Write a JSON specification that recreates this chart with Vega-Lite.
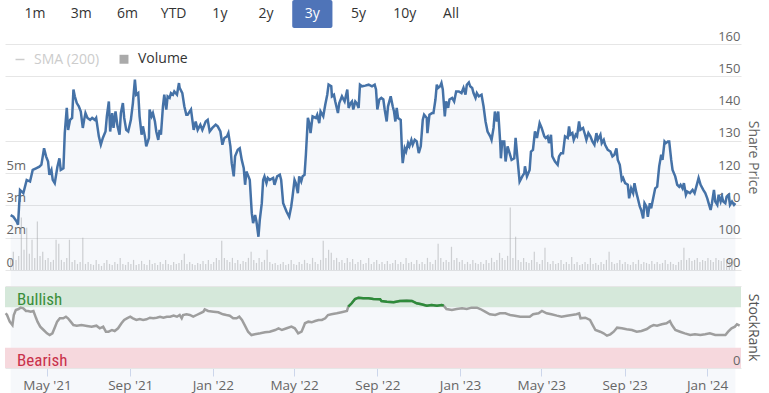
{
  "$schema": "https://vega.github.io/schema/vega-lite/v6.json",
  "padding": {"left": 0, "top": 0, "right": 14, "bottom": 0},
  "background": "white",
  "spacing": 16,
  "bounds": "flush",
  "config": {"view": {"stroke": null}, "axis": {"labelFont": "Open Sans", "titleFont": "Open Sans"}, "legend": {"labelFont": "Open Sans"}},
  "resolve": {"scale": {"x": "independent", "y": "independent", "color": "independent"}},
  "datasets": {
    "price": [
      {"d":"2021-060","p":107},{"d":"2021-064","p":106.5},{"d":"2021-069","p":105},{"d":"2021-071","p":104},{"d":"2021-074","p":114.8},{"d":"2021-079","p":113.8},{"d":"2021-084","p":117.9},{"d":"2021-089","p":117.4},{"d":"2021-093","p":121},{"d":"2021-098","p":121.5},
      {"d":"2021-103","p":122},{"d":"2021-106","p":122.6},{"d":"2021-110","p":127.7},{"d":"2021-113","p":125.2},{"d":"2021-116","p":123.6},{"d":"2021-118","p":119.5},{"d":"2021-121","p":121},{"d":"2021-123","p":117.9},{"d":"2021-126","p":116.9},{"d":"2021-130","p":122},
      {"d":"2021-133","p":124.6},{"d":"2021-135","p":121},{"d":"2021-139","p":121.5},{"d":"2021-141","p":132.4},{"d":"2021-144","p":140.2},{"d":"2021-146","p":133.4},{"d":"2021-149","p":136.5},{"d":"2021-152","p":137.1},{"d":"2021-154","p":145.9},{"d":"2021-156","p":143.8},
      {"d":"2021-159","p":141.7},{"d":"2021-162","p":140.7},{"d":"2021-165","p":139.1},{"d":"2021-168","p":134},{"d":"2021-170","p":136.5},{"d":"2021-172","p":138.6},{"d":"2021-175","p":137.1},{"d":"2021-179","p":136.5},{"d":"2021-182","p":137.1},{"d":"2021-186","p":136.5},
      {"d":"2021-188","p":137.1},{"d":"2021-192","p":131.4},{"d":"2021-195","p":128.8},{"d":"2021-198","p":130.9},{"d":"2021-202","p":132.9},{"d":"2021-204","p":137.6},{"d":"2021-207","p":142.2},{"d":"2021-209","p":132.9},{"d":"2021-212","p":138.6},{"d":"2021-214","p":134},
      {"d":"2021-217","p":139.1},{"d":"2021-220","p":134.5},{"d":"2021-223","p":131.9},{"d":"2021-225","p":138.6},{"d":"2021-228","p":141.7},{"d":"2021-230","p":137.1},{"d":"2021-233","p":133.4},{"d":"2021-236","p":132.9},{"d":"2021-240","p":136.5},{"d":"2021-243","p":141.7},
      {"d":"2021-246","p":149},{"d":"2021-248","p":144.3},{"d":"2021-251","p":144.8},{"d":"2021-253","p":137.6},{"d":"2021-256","p":131.9},{"d":"2021-258","p":134.5},{"d":"2021-261","p":131.4},{"d":"2021-263","p":128.3},{"d":"2021-267","p":130.9},{"d":"2021-268","p":139.7},
      {"d":"2021-271","p":137.6},{"d":"2021-273","p":138.6},{"d":"2021-276","p":136},{"d":"2021-278","p":132.9},{"d":"2021-281","p":130.3},{"d":"2021-283","p":133.4},{"d":"2021-285","p":131.9},{"d":"2021-288","p":140.7},{"d":"2021-290","p":144.3},{"d":"2021-293","p":139.7},
      {"d":"2021-295","p":143.8},{"d":"2021-298","p":143.3},{"d":"2021-300","p":144.8},{"d":"2021-303","p":144.3},{"d":"2021-305","p":145.3},{"d":"2021-309","p":144.3},{"d":"2021-312","p":147.9},{"d":"2021-313","p":146.4},{"d":"2021-317","p":144.8},{"d":"2021-320","p":140.7},
      {"d":"2021-323","p":138.1},{"d":"2021-325","p":138.1},{"d":"2021-330","p":139.7},{"d":"2021-334","p":133.4},{"d":"2021-337","p":136},{"d":"2021-340","p":133.4},{"d":"2021-344","p":135},{"d":"2021-347","p":133.4},{"d":"2021-352","p":136},{"d":"2021-355","p":136.5},
      {"d":"2021-358","p":132.9},{"d":"2021-362","p":134},{"d":"2022-002","p":135},{"d":"2022-005","p":134.5},{"d":"2022-009","p":132.9},{"d":"2022-012","p":128.8},{"d":"2022-015","p":130.9},{"d":"2022-019","p":131.4},{"d":"2022-021","p":132.4},{"d":"2022-024","p":128.3},
      {"d":"2022-026","p":123.1},{"d":"2022-029","p":119},{"d":"2022-031","p":125.2},{"d":"2022-035","p":127.2},{"d":"2022-038","p":127.7},{"d":"2022-041","p":124.1},{"d":"2022-044","p":121.5},{"d":"2022-046","p":116.4},{"d":"2022-048","p":120.5},{"d":"2022-051","p":119},
      {"d":"2022-053","p":117.9},{"d":"2022-056","p":107.6},{"d":"2022-058","p":104.5},{"d":"2022-061","p":107},{"d":"2022-063","p":105},{"d":"2022-066","p":100.3},{"d":"2022-068","p":105.5},{"d":"2022-071","p":110.7},{"d":"2022-073","p":117.9},{"d":"2022-075","p":119},
      {"d":"2022-078","p":116.9},{"d":"2022-080","p":118.5},{"d":"2022-083","p":117.9},{"d":"2022-088","p":118.5},{"d":"2022-090","p":116.4},{"d":"2022-094","p":119},{"d":"2022-098","p":119.5},{"d":"2022-100","p":117.9},{"d":"2022-103","p":110.7},{"d":"2022-108","p":108.1},
      {"d":"2022-112","p":106.5},{"d":"2022-115","p":109.6},{"d":"2022-117","p":112.7},{"d":"2022-120","p":117.9},{"d":"2022-122","p":116.9},{"d":"2022-125","p":113.8},{"d":"2022-127","p":119},{"d":"2022-130","p":117.4},{"d":"2022-132","p":119},{"d":"2022-135","p":119.5},
      {"d":"2022-137","p":125.7},{"d":"2022-140","p":137.1},{"d":"2022-142","p":135.5},{"d":"2022-144","p":132.4},{"d":"2022-147","p":137.6},{"d":"2022-152","p":137.1},{"d":"2022-154","p":138.1},{"d":"2022-157","p":135.5},{"d":"2022-159","p":139.1},{"d":"2022-163","p":137.6},
      {"d":"2022-166","p":141.2},{"d":"2022-169","p":144.3},{"d":"2022-171","p":147.4},{"d":"2022-175","p":146.9},{"d":"2022-176","p":143.8},{"d":"2022-179","p":144.3},{"d":"2022-181","p":142.2},{"d":"2022-185","p":138.6},{"d":"2022-187","p":141.7},{"d":"2022-191","p":143.8},
      {"d":"2022-195","p":142.2},{"d":"2022-199","p":145.9},{"d":"2022-201","p":140.2},{"d":"2022-204","p":141.7},{"d":"2022-206","p":142.2},{"d":"2022-208","p":139.7},{"d":"2022-211","p":142.2},{"d":"2022-213","p":141.7},{"d":"2022-216","p":140.2},{"d":"2022-218","p":147.4},
      {"d":"2022-221","p":146.9},{"d":"2022-226","p":147.1},{"d":"2022-231","p":147.4},{"d":"2022-236","p":146.9},{"d":"2022-240","p":147.4},{"d":"2022-242","p":145.9},{"d":"2022-244","p":139.7},{"d":"2022-247","p":142.8},{"d":"2022-250","p":143.3},{"d":"2022-253","p":142.8},
      {"d":"2022-255","p":139.7},{"d":"2022-258","p":136},{"d":"2022-260","p":140.7},{"d":"2022-264","p":143.8},{"d":"2022-267","p":140.7},{"d":"2022-269","p":139.1},{"d":"2022-271","p":136},{"d":"2022-273","p":140.2},{"d":"2022-275","p":137.1},{"d":"2022-279","p":136.5},
      {"d":"2022-281","p":126.2},{"d":"2022-282","p":123.1},{"d":"2022-285","p":127.7},{"d":"2022-287","p":126.7},{"d":"2022-290","p":129.3},{"d":"2022-292","p":128.3},{"d":"2022-295","p":130.3},{"d":"2022-297","p":128.8},{"d":"2022-300","p":130.3},{"d":"2022-303","p":129.8},
      {"d":"2022-306","p":126.2},{"d":"2022-309","p":128.3},{"d":"2022-312","p":136.5},{"d":"2022-314","p":138.1},{"d":"2022-318","p":137.1},{"d":"2022-319","p":132.4},{"d":"2022-322","p":138.1},{"d":"2022-326","p":138.6},{"d":"2022-328","p":138.6},{"d":"2022-331","p":142.8},
      {"d":"2022-333","p":147.4},{"d":"2022-335","p":146.4},{"d":"2022-338","p":146.9},{"d":"2022-340","p":147.9},{"d":"2022-342","p":145.9},{"d":"2022-345","p":137.6},{"d":"2022-347","p":142.2},{"d":"2022-350","p":140.2},{"d":"2022-352","p":142.8},{"d":"2022-356","p":143.3},
      {"d":"2022-359","p":142.2},{"d":"2022-362","p":145.3},{"d":"2023-001","p":145.3},{"d":"2023-005","p":144.8},{"d":"2023-008","p":146.4},{"d":"2023-011","p":144.3},{"d":"2023-013","p":147.4},{"d":"2023-016","p":148.1},{"d":"2023-018","p":146.9},{"d":"2023-021","p":146.4},
      {"d":"2023-023","p":144.8},{"d":"2023-026","p":143.3},{"d":"2023-028","p":144.8},{"d":"2023-031","p":143.8},{"d":"2023-035","p":144.3},{"d":"2023-038","p":140.7},{"d":"2023-041","p":136},{"d":"2023-044","p":132.9},{"d":"2023-048","p":131.4},{"d":"2023-050","p":130.3},
      {"d":"2023-053","p":134},{"d":"2023-055","p":139.1},{"d":"2023-058","p":136},{"d":"2023-060","p":139.1},{"d":"2023-063","p":129.3},{"d":"2023-064","p":124.6},{"d":"2023-066","p":129.8},{"d":"2023-069","p":129.8},{"d":"2023-071","p":123.6},{"d":"2023-074","p":128.3},
      {"d":"2023-077","p":126.2},{"d":"2023-080","p":124.1},{"d":"2023-084","p":124.6},{"d":"2023-086","p":130.9},{"d":"2023-089","p":124.1},{"d":"2023-092","p":117.4},{"d":"2023-096","p":119},{"d":"2023-099","p":120},{"d":"2023-100","p":122.1},{"d":"2023-103","p":119},
      {"d":"2023-107","p":121},{"d":"2023-109","p":126.7},{"d":"2023-112","p":127.2},{"d":"2023-115","p":132.9},{"d":"2023-118","p":130.9},{"d":"2023-122","p":135.5},{"d":"2023-125","p":134},{"d":"2023-129","p":131.4},{"d":"2023-131","p":130.9},{"d":"2023-134","p":131.4},
      {"d":"2023-136","p":129.3},{"d":"2023-139","p":131.9},{"d":"2023-141","p":125.2},{"d":"2023-145","p":123.6},{"d":"2023-149","p":122.6},{"d":"2023-151","p":125.2},{"d":"2023-154","p":126.2},{"d":"2023-157","p":126.2},{"d":"2023-160","p":131.4},{"d":"2023-164","p":130.9},
      {"d":"2023-166","p":134.5},{"d":"2023-168","p":131.9},{"d":"2023-171","p":132.4},{"d":"2023-173","p":130.3},{"d":"2023-176","p":131.9},{"d":"2023-178","p":131.4},{"d":"2023-181","p":136},{"d":"2023-183","p":133.4},{"d":"2023-187","p":134},{"d":"2023-190","p":131.9},
      {"d":"2023-192","p":130.3},{"d":"2023-195","p":132.4},{"d":"2023-198","p":131.4},{"d":"2023-201","p":129.8},{"d":"2023-204","p":128.8},{"d":"2023-207","p":132.4},{"d":"2023-209","p":130.3},{"d":"2023-213","p":131.9},{"d":"2023-215","p":129.3},{"d":"2023-218","p":130.3},
      {"d":"2023-220","p":128.8},{"d":"2023-224","p":127.2},{"d":"2023-228","p":126.7},{"d":"2023-231","p":125.2},{"d":"2023-234","p":125.7},{"d":"2023-237","p":127.7},{"d":"2023-239","p":124.1},{"d":"2023-242","p":122.6},{"d":"2023-245","p":117.9},{"d":"2023-247","p":118.5},
      {"d":"2023-250","p":116.9},{"d":"2023-254","p":116.4},{"d":"2023-256","p":112.2},{"d":"2023-259","p":115.3},{"d":"2023-262","p":113.8},{"d":"2023-264","p":116.9},{"d":"2023-267","p":113.8},{"d":"2023-269","p":112.2},{"d":"2023-272","p":109.6},{"d":"2023-274","p":108.6},
      {"d":"2023-277","p":106},{"d":"2023-279","p":110.7},{"d":"2023-282","p":109.6},{"d":"2023-284","p":106.5},{"d":"2023-287","p":110.7},{"d":"2023-289","p":109.1},{"d":"2023-292","p":112.2},{"d":"2023-295","p":115.3},{"d":"2023-298","p":115.8},{"d":"2023-301","p":122.1},
      {"d":"2023-304","p":125.7},{"d":"2023-306","p":124.1},{"d":"2023-309","p":129.8},{"d":"2023-311","p":129.3},{"d":"2023-314","p":129.8},{"d":"2023-316","p":129.8},{"d":"2023-319","p":124.1},{"d":"2023-321","p":121},{"d":"2023-325","p":119},{"d":"2023-328","p":116.4},
      {"d":"2023-331","p":115.8},{"d":"2023-333","p":116.4},{"d":"2023-336","p":115.3},{"d":"2023-338","p":116.9},{"d":"2023-341","p":113.3},{"d":"2023-343","p":114.3},{"d":"2023-347","p":113.8},{"d":"2023-351","p":114.8},{"d":"2023-354","p":113.8},{"d":"2023-358","p":116.9},
      {"d":"2023-360","p":118.5},{"d":"2023-363","p":116.4},{"d":"2024-002","p":114.8},{"d":"2024-005","p":113.8},{"d":"2024-008","p":112.2},{"d":"2024-010","p":110.7},{"d":"2024-013","p":108.6},{"d":"2024-015","p":110.7},{"d":"2024-018","p":114.8},{"d":"2024-020","p":111.2},
      {"d":"2024-023","p":110.2},{"d":"2024-025","p":113.3},{"d":"2024-028","p":111.2},{"d":"2024-030","p":112.7},{"d":"2024-032","p":111.2},{"d":"2024-035","p":110.7},{"d":"2024-037","p":112.7},{"d":"2024-040","p":113.3},{"d":"2024-042","p":110.2},{"d":"2024-045","p":111.2},
      {"d":"2024-048","p":110.2},{"d":"2024-050","p":110.7}
    ],
    "rank": [
      {"d":"2021-060","r":67.5},{"d":"2021-062","r":65.4},{"d":"2021-066","r":57.2},{"d":"2021-070","r":53},{"d":"2021-072","r":65.4},{"d":"2021-075","r":71.6},{"d":"2021-079","r":72.8},{"d":"2021-082","r":74.5},{"d":"2021-086","r":73.7},{"d":"2021-090","r":70.4},
      {"d":"2021-093","r":70.4},{"d":"2021-097","r":69.5},{"d":"2021-101","r":70.4},{"d":"2021-105","r":61.3},{"d":"2021-107","r":57.2},{"d":"2021-111","r":51},{"d":"2021-116","r":46.9},{"d":"2021-121","r":42.8},{"d":"2021-125","r":40.7},{"d":"2021-129","r":42.8},
      {"d":"2021-133","r":51},{"d":"2021-136","r":57.2},{"d":"2021-140","r":61.3},{"d":"2021-145","r":61.3},{"d":"2021-149","r":63.3},{"d":"2021-152","r":61.3},{"d":"2021-156","r":57.2},{"d":"2021-160","r":53},{"d":"2021-165","r":52.2},{"d":"2021-172","r":53},
      {"d":"2021-180","r":51.9},{"d":"2021-187","r":51},{"d":"2021-194","r":52.2},{"d":"2021-199","r":49},{"d":"2021-204","r":51},{"d":"2021-208","r":44.8},{"d":"2021-212","r":44.8},{"d":"2021-217","r":46.9},{"d":"2021-221","r":45.7},{"d":"2021-226","r":49},
      {"d":"2021-231","r":55.2},{"d":"2021-235","r":59.3},{"d":"2021-239","r":61.3},{"d":"2021-244","r":63.3},{"d":"2021-248","r":61.3},{"d":"2021-253","r":59.3},{"d":"2021-258","r":60.5},{"d":"2021-263","r":59.3},{"d":"2021-268","r":60.1},{"d":"2021-273","r":62.1},
      {"d":"2021-278","r":61.3},{"d":"2021-283","r":62.1},{"d":"2021-288","r":63.3},{"d":"2021-293","r":62.1},{"d":"2021-298","r":63.3},{"d":"2021-303","r":63.3},{"d":"2021-308","r":64.6},{"d":"2021-313","r":63.3},{"d":"2021-317","r":65.4},{"d":"2021-320","r":61.3},
      {"d":"2021-322","r":65.4},{"d":"2021-327","r":66.3},{"d":"2021-332","r":65.4},{"d":"2021-337","r":63.3},{"d":"2021-342","r":65.4},{"d":"2021-347","r":67.5},{"d":"2021-352","r":69.5},{"d":"2021-354","r":72.4},{"d":"2021-359","r":70.4},{"d":"2022-002","r":69.5},
      {"d":"2022-009","r":68.8},{"d":"2022-016","r":66.3},{"d":"2022-021","r":65.4},{"d":"2022-026","r":64.6},{"d":"2022-031","r":61.3},{"d":"2022-036","r":61.3},{"d":"2022-040","r":63.3},{"d":"2022-044","r":59.3},{"d":"2022-048","r":53},{"d":"2022-053","r":44.8},
      {"d":"2022-058","r":40.7},{"d":"2022-063","r":41.6},{"d":"2022-071","r":42.8},{"d":"2022-078","r":44},{"d":"2022-085","r":44.8},{"d":"2022-093","r":46.9},{"d":"2022-098","r":49},{"d":"2022-103","r":46.9},{"d":"2022-110","r":49},{"d":"2022-117","r":51},
      {"d":"2022-122","r":49},{"d":"2022-127","r":42.8},{"d":"2022-132","r":44.8},{"d":"2022-135","r":51},{"d":"2022-137","r":55.2},{"d":"2022-142","r":57.2},{"d":"2022-147","r":56.4},{"d":"2022-152","r":58},{"d":"2022-157","r":59.3},{"d":"2022-162","r":59.3},
      {"d":"2022-167","r":61.3},{"d":"2022-171","r":65.4},{"d":"2022-176","r":66.3},{"d":"2022-184","r":67.5},{"d":"2022-191","r":68.8},{"d":"2022-199","r":70.4},{"d":"2022-201","r":75.7},{"d":"2022-206","r":79.9},{"d":"2022-211","r":85.2},{"d":"2022-216","r":86.8},
      {"d":"2022-223","r":86},{"d":"2022-231","r":86},{"d":"2022-238","r":85.2},{"d":"2022-248","r":84.8},{"d":"2022-250","r":82.7},{"d":"2022-258","r":81.9},{"d":"2022-268","r":81.1},{"d":"2022-277","r":82.7},{"d":"2022-287","r":83.1},{"d":"2022-295","r":82.7},
      {"d":"2022-302","r":79.9},{"d":"2022-309","r":78.6},{"d":"2022-317","r":76.9},{"d":"2022-324","r":77.8},{"d":"2022-332","r":76.9},{"d":"2022-339","r":77.8},{"d":"2022-342","r":76.9},{"d":"2022-346","r":72.8},{"d":"2022-354","r":71.6},{"d":"2022-361","r":72.8},
      {"d":"2023-004","r":73.7},{"d":"2023-011","r":72.8},{"d":"2023-018","r":74.5},{"d":"2023-026","r":74.5},{"d":"2023-031","r":72.8},{"d":"2023-038","r":69.5},{"d":"2023-045","r":66.3},{"d":"2023-053","r":65.4},{"d":"2023-060","r":67.5},{"d":"2023-068","r":67.5},
      {"d":"2023-075","r":65.4},{"d":"2023-082","r":64.6},{"d":"2023-090","r":63.3},{"d":"2023-097","r":63.3},{"d":"2023-104","r":63.3},{"d":"2023-109","r":66.3},{"d":"2023-117","r":67.5},{"d":"2023-122","r":70.4},{"d":"2023-129","r":67.5},{"d":"2023-136","r":66.3},
      {"d":"2023-144","r":64.6},{"d":"2023-151","r":63.3},{"d":"2023-159","r":64.6},{"d":"2023-166","r":65.4},{"d":"2023-173","r":66.3},{"d":"2023-177","r":67.5},{"d":"2023-179","r":61.3},{"d":"2023-186","r":62.1},{"d":"2023-193","r":59.3},{"d":"2023-197","r":53},
      {"d":"2023-201","r":46.9},{"d":"2023-208","r":44.8},{"d":"2023-213","r":42.8},{"d":"2023-218","r":39.9},{"d":"2023-223","r":41.6},{"d":"2023-228","r":44.8},{"d":"2023-233","r":49.8},{"d":"2023-240","r":49},{"d":"2023-247","r":47.8},{"d":"2023-255","r":46.9},
      {"d":"2023-262","r":44.8},{"d":"2023-269","r":45.7},{"d":"2023-277","r":48.1},{"d":"2023-282","r":51},{"d":"2023-287","r":53},{"d":"2023-292","r":52.2},{"d":"2023-299","r":54},{"d":"2023-306","r":55.2},{"d":"2023-311","r":58},{"d":"2023-314","r":53},
      {"d":"2023-319","r":46.9},{"d":"2023-326","r":44.8},{"d":"2023-333","r":42.8},{"d":"2023-341","r":40.7},{"d":"2023-348","r":41.6},{"d":"2023-356","r":40.7},{"d":"2023-363","r":41.6},{"d":"2024-005","r":42.8},{"d":"2024-013","r":40.7},{"d":"2024-020","r":40.7},
      {"d":"2024-028","r":40.7},{"d":"2024-032","r":44.8},{"d":"2024-037","r":49},{"d":"2024-042","r":51},{"d":"2024-045","r":54},{"d":"2024-049","r":52.2}
    ],
    "vol": [
      {"d":"2021-060","v":0.6},{"d":"2021-064","v":0.9},{"d":"2021-068","v":0.5},{"d":"2021-072","v":0.7},{"d":"2021-076","v":2.6},{"d":"2021-080","v":1.0},{"d":"2021-084","v":2.1},{"d":"2021-088","v":0.8},{"d":"2021-092","v":1.5},{"d":"2021-096","v":0.6},
      {"d":"2021-100","v":2.4},{"d":"2021-104","v":0.7},{"d":"2021-108","v":0.9},{"d":"2021-112","v":0.5},{"d":"2021-116","v":0.6},{"d":"2021-120","v":0.4},{"d":"2021-124","v":0.5},{"d":"2021-128","v":1.5},{"d":"2021-132","v":1.3},{"d":"2021-136","v":0.5},
      {"d":"2021-140","v":0.4},{"d":"2021-144","v":0.6},{"d":"2021-148","v":1.5},{"d":"2021-152","v":0.4},{"d":"2021-156","v":0.5},{"d":"2021-160","v":0.3},{"d":"2021-164","v":0.4},{"d":"2021-168","v":1.6},{"d":"2021-172","v":0.3},{"d":"2021-176","v":0.4},
      {"d":"2021-180","v":0.3},{"d":"2021-184","v":0.25},{"d":"2021-188","v":0.5},{"d":"2021-192","v":0.3},{"d":"2021-196","v":0.2},{"d":"2021-200","v":0.35},{"d":"2021-204","v":0.5},{"d":"2021-208","v":0.3},{"d":"2021-212","v":0.25},{"d":"2021-216","v":0.4},
      {"d":"2021-220","v":0.3},{"d":"2021-224","v":0.6},{"d":"2021-228","v":0.3},{"d":"2021-232","v":0.25},{"d":"2021-236","v":0.4},{"d":"2021-240","v":0.3},{"d":"2021-244","v":0.5},{"d":"2021-248","v":0.25},{"d":"2021-252","v":0.3},{"d":"2021-256","v":0.45},
      {"d":"2021-260","v":0.3},{"d":"2021-264","v":0.25},{"d":"2021-268","v":0.5},{"d":"2021-272","v":0.3},{"d":"2021-276","v":0.35},{"d":"2021-280","v":0.25},{"d":"2021-284","v":0.4},{"d":"2021-288","v":0.3},{"d":"2021-292","v":0.5},{"d":"2021-296","v":0.3},
      {"d":"2021-300","v":0.25},{"d":"2021-304","v":0.4},{"d":"2021-308","v":0.3},{"d":"2021-312","v":0.35},{"d":"2021-316","v":0.5},{"d":"2021-320","v":0.8},{"d":"2021-324","v":0.3},{"d":"2021-328","v":0.4},{"d":"2021-332","v":0.3},{"d":"2021-336","v":0.25},
      {"d":"2021-340","v":0.35},{"d":"2021-344","v":0.3},{"d":"2021-348","v":0.45},{"d":"2021-352","v":0.3},{"d":"2021-356","v":0.5},{"d":"2021-360","v":0.3},{"d":"2021-364","v":0.4},{"d":"2022-003","v":0.6},{"d":"2022-007","v":0.5},{"d":"2022-011","v":1.45},
      {"d":"2022-015","v":0.6},{"d":"2022-019","v":0.5},{"d":"2022-023","v":0.4},{"d":"2022-027","v":0.6},{"d":"2022-031","v":0.35},{"d":"2022-035","v":0.5},{"d":"2022-039","v":0.3},{"d":"2022-043","v":0.45},{"d":"2022-047","v":0.4},{"d":"2022-051","v":0.6},
      {"d":"2022-055","v":0.9},{"d":"2022-059","v":0.5},{"d":"2022-063","v":0.35},{"d":"2022-067","v":0.6},{"d":"2022-071","v":0.4},{"d":"2022-075","v":0.5},{"d":"2022-079","v":1.0},{"d":"2022-083","v":0.4},{"d":"2022-087","v":0.3},{"d":"2022-091","v":0.35},
      {"d":"2022-095","v":0.25},{"d":"2022-099","v":0.3},{"d":"2022-103","v":0.4},{"d":"2022-107","v":0.25},{"d":"2022-111","v":0.3},{"d":"2022-115","v":0.5},{"d":"2022-119","v":0.3},{"d":"2022-123","v":0.25},{"d":"2022-127","v":0.4},{"d":"2022-131","v":0.3},
      {"d":"2022-135","v":0.5},{"d":"2022-139","v":0.35},{"d":"2022-143","v":0.3},{"d":"2022-147","v":0.6},{"d":"2022-151","v":0.4},{"d":"2022-155","v":0.3},{"d":"2022-159","v":0.5},{"d":"2022-163","v":1.45},{"d":"2022-167","v":0.6},{"d":"2022-171","v":1.0},
      {"d":"2022-175","v":0.85},{"d":"2022-179","v":0.5},{"d":"2022-183","v":0.6},{"d":"2022-187","v":0.4},{"d":"2022-191","v":0.5},{"d":"2022-195","v":0.35},{"d":"2022-199","v":0.6},{"d":"2022-203","v":0.4},{"d":"2022-207","v":0.55},{"d":"2022-211","v":0.3},
      {"d":"2022-215","v":0.4},{"d":"2022-219","v":0.5},{"d":"2022-223","v":0.3},{"d":"2022-227","v":0.35},{"d":"2022-231","v":0.6},{"d":"2022-235","v":0.3},{"d":"2022-239","v":0.4},{"d":"2022-243","v":0.5},{"d":"2022-247","v":0.3},{"d":"2022-251","v":0.4},
      {"d":"2022-255","v":0.3},{"d":"2022-259","v":0.45},{"d":"2022-263","v":0.3},{"d":"2022-267","v":0.35},{"d":"2022-271","v":0.5},{"d":"2022-275","v":0.3},{"d":"2022-279","v":0.4},{"d":"2022-283","v":0.3},{"d":"2022-287","v":0.6},{"d":"2022-291","v":0.35},
      {"d":"2022-295","v":0.4},{"d":"2022-299","v":0.3},{"d":"2022-303","v":0.5},{"d":"2022-307","v":0.3},{"d":"2022-311","v":0.4},{"d":"2022-315","v":0.3},{"d":"2022-319","v":0.6},{"d":"2022-323","v":0.4},{"d":"2022-327","v":0.3},{"d":"2022-331","v":0.5},
      {"d":"2022-335","v":1.3},{"d":"2022-339","v":0.6},{"d":"2022-343","v":0.4},{"d":"2022-347","v":0.5},{"d":"2022-351","v":0.4},{"d":"2022-355","v":1.15},{"d":"2022-359","v":0.5},{"d":"2022-363","v":0.6},{"d":"2023-002","v":0.4},{"d":"2023-006","v":0.5},
      {"d":"2023-010","v":0.3},{"d":"2023-014","v":0.4},{"d":"2023-018","v":0.3},{"d":"2023-022","v":0.5},{"d":"2023-026","v":0.35},{"d":"2023-030","v":0.3},{"d":"2023-034","v":0.4},{"d":"2023-038","v":0.3},{"d":"2023-042","v":0.5},{"d":"2023-046","v":0.35},
      {"d":"2023-050","v":0.6},{"d":"2023-054","v":0.4},{"d":"2023-058","v":0.5},{"d":"2023-062","v":0.85},{"d":"2023-066","v":0.6},{"d":"2023-070","v":0.5},{"d":"2023-074","v":0.7},{"d":"2023-078","v":3.1},{"d":"2023-082","v":0.6},{"d":"2023-086","v":1.65},
      {"d":"2023-090","v":0.5},{"d":"2023-094","v":0.4},{"d":"2023-098","v":0.6},{"d":"2023-102","v":0.4},{"d":"2023-106","v":0.35},{"d":"2023-110","v":0.5},{"d":"2023-114","v":0.9},{"d":"2023-118","v":0.4},{"d":"2023-122","v":0.3},{"d":"2023-126","v":0.5},
      {"d":"2023-130","v":1.1},{"d":"2023-134","v":0.4},{"d":"2023-138","v":0.3},{"d":"2023-142","v":0.45},{"d":"2023-146","v":0.3},{"d":"2023-150","v":0.35},{"d":"2023-154","v":0.5},{"d":"2023-158","v":0.3},{"d":"2023-162","v":0.4},{"d":"2023-166","v":0.3},
      {"d":"2023-170","v":0.65},{"d":"2023-174","v":0.3},{"d":"2023-178","v":0.4},{"d":"2023-182","v":0.25},{"d":"2023-186","v":0.3},{"d":"2023-190","v":0.4},{"d":"2023-194","v":0.3},{"d":"2023-198","v":0.6},{"d":"2023-202","v":0.3},{"d":"2023-206","v":0.35},
      {"d":"2023-210","v":0.25},{"d":"2023-214","v":0.4},{"d":"2023-218","v":0.3},{"d":"2023-222","v":0.5},{"d":"2023-226","v":0.9},{"d":"2023-230","v":0.4},{"d":"2023-234","v":0.3},{"d":"2023-238","v":0.35},{"d":"2023-242","v":0.5},{"d":"2023-246","v":0.3},
      {"d":"2023-250","v":0.4},{"d":"2023-254","v":0.3},{"d":"2023-258","v":0.25},{"d":"2023-262","v":0.4},{"d":"2023-266","v":0.3},{"d":"2023-270","v":0.5},{"d":"2023-274","v":0.3},{"d":"2023-278","v":0.4},{"d":"2023-282","v":0.35},{"d":"2023-286","v":0.3},
      {"d":"2023-290","v":0.45},{"d":"2023-294","v":0.3},{"d":"2023-298","v":0.4},{"d":"2023-302","v":0.3},{"d":"2023-306","v":0.35},{"d":"2023-310","v":0.5},{"d":"2023-314","v":0.3},{"d":"2023-318","v":0.4},{"d":"2023-322","v":0.3},{"d":"2023-326","v":0.25},
      {"d":"2023-330","v":0.4},{"d":"2023-334","v":0.5},{"d":"2023-338","v":1.1},{"d":"2023-342","v":0.5},{"d":"2023-346","v":0.6},{"d":"2023-350","v":0.45},{"d":"2023-354","v":0.5},{"d":"2023-358","v":0.6},{"d":"2023-362","v":0.4},{"d":"2024-001","v":0.5},
      {"d":"2024-005","v":0.45},{"d":"2024-009","v":0.6},{"d":"2024-013","v":0.5},{"d":"2024-017","v":0.4},{"d":"2024-021","v":0.6},{"d":"2024-025","v":0.5},{"d":"2024-029","v":0.45},{"d":"2024-033","v":0.6},{"d":"2024-037","v":0.5},{"d":"2024-041","v":0.55},
      {"d":"2024-045","v":0.6},{"d":"2024-049","v":0.5}
    ],
    "buttons": [{"b":"1m"},{"b":"3m"},{"b":"6m"},{"b":"YTD"},{"b":"1y"},{"b":"2y"},{"b":"3y"},{"b":"5y"},{"b":"10y"},{"b":"All"}],
    "zones": [{"z":"Bullish","lo":75,"hi":100},{"z":"Bearish","lo":0,"hi":25}]
  },
  "vconcat": [
    {
      "width": 476,
      "height": 28,
      "data": {"name": "buttons"},
      "layer": [
        {
          "transform": [{"filter": "datum.b === '3y'"}],
          "mark": {"type": "bar", "color": "#4f74b8", "cornerRadius": 2},
          "encoding": {
            "x": {"field": "b", "type": "nominal", "sort": null, "axis": null,
                  "scale": {"domain": ["1m","3m","6m","YTD","1y","2y","3y","5y","10y","All"], "paddingInner": 0.13, "paddingOuter": 0.214}}
          }
        },
        {
          "mark": {"type": "text", "font": "Open Sans", "fontSize": 14},
          "encoding": {
            "x": {"field": "b", "type": "nominal", "sort": null, "axis": null,
                  "scale": {"domain": ["1m","3m","6m","YTD","1y","2y","3y","5y","10y","All"], "paddingInner": 0.13, "paddingOuter": 0.214}},
            "text": {"field": "b"},
            "color": {"condition": {"test": "datum.b === '3y'", "value": "#ffffff"}, "value": "#333333"}
          }
        }
      ]
    },
    {
      "width": 736,
      "height": 226,
      "resolve": {"scale": {"y": "independent"}},
      "layer": [
        {
          "data": {"name": "vol", "format": {"parse": {"d": "utc:'%Y-%j'"}}},
          "mark": {"type": "bar", "width": 1.2, "opacity": 0.5},
          "encoding": {
            "x": {"field": "d", "type": "temporal", "axis": null, "scale": {"type": "utc", "domain": ["2021-02-28", "2024-02-20"]}},
            "y": {"field": "v", "type": "quantitative", "scale": {"domain": [0, 11.2], "nice": false},
                  "axis": {"orient": "left", "values": [0, 1.6, 3.2, 4.8], "labelExpr": "datum.value === 0 ? '0' : round(datum.value) + 'm'",
                           "grid": false, "domain": false, "ticks": false, "tickSize": 0, "labelAlign": "left", "labelBaseline": "alphabetic",
                           "labelPadding": -1, "labelOffset": -4, "labelColor": "#666666", "labelFontSize": 13, "title": null}},
            "color": {"datum": "Volume", "type": "nominal",
                      "scale": {"domain": ["SMA (200)", "Volume"], "range": ["#cccccc", "#aaaaaa"]},
                      "legend": {"orient": "top-left", "direction": "horizontal", "title": null, "offset": 8, "padding": 0,
                                 "labelFontSize": 14, "symbolSize": 80, "columnPadding": 16, "labelOffset": 7,
                                 "labelColor": {"expr": "datum.label === 'Volume' ? '#333333' : '#cccccc'"},
                                 "symbolType": {"expr": "datum.label === 'Volume' ? 'square' : 'stroke'"},
                                 "symbolStrokeColor": {"expr": "datum.label === 'Volume' ? 'transparent' : '#cccccc'"},
                                 "symbolStrokeWidth": 1.5, "symbolOpacity": 1}}
          }
        },
        {
          "data": {"name": "price", "format": {"parse": {"d": "utc:'%Y-%j'"}}},
          "encoding": {
            "x": {"field": "d", "type": "temporal", "axis": null, "scale": {"type": "utc", "domain": ["2021-02-28", "2024-02-20"]}},
            "y": {"field": "p", "type": "quantitative", "scale": {"domain": [90, 160], "nice": false, "zero": false},
                  "axis": {"orient": "right", "values": [90,100,110,120,130,140,150,160], "grid": true, "gridColor": "#e6e6e6",
                           "domain": false, "ticks": false, "tickSize": 0, "labelAlign": "right", "labelBaseline": "alphabetic",
                           "labelPadding": -1, "labelOffset": -4, "labelColor": "#666666", "labelFontSize": 13,
                           "title": "Share Price", "titleFontSize": 14, "titleFontWeight": "normal", "titleColor": "#666666", "titlePadding": 4}}
          },
          "layer": [
            {"mark": {"type": "area", "color": "#4572a7", "opacity": 0.05}},
            {"mark": {"type": "line", "color": "#4572a7", "strokeWidth": 2.5}}
          ]
        }
      ]
    },
    {
      "width": 736,
      "height": 82,
      "resolve": {"scale": {"color": "independent"}},
      "layer": [
        {
          "data": {"name": "zones"},
          "mark": {"type": "rect"},
          "encoding": {
            "x": {"value": 0},
            "x2": {"value": "width"},
            "y": {"field": "lo", "type": "quantitative", "scale": {"domain": [0, 101.2], "nice": false},
                  "axis": {"orient": "right", "values": [0, 101.2], "labelExpr": "datum.value === 0 ? '0' : ''", "grid": true, "gridColor": "#e6e6e6",
                           "domain": false, "ticks": false, "tickSize": 0, "labelAlign": "right", "labelBaseline": "alphabetic", "zindex": 1,
                           "labelPadding": -1, "labelOffset": -4, "labelColor": "#666666", "labelFontSize": 13,
                           "title": "StockRank", "titleFontSize": 14, "titleFontWeight": "normal", "titleColor": "#555555", "titlePadding": 4}},
            "y2": {"field": "hi"},
            "color": {"field": "z", "type": "nominal", "legend": null, "scale": {"domain": ["Bullish", "Bearish"], "range": ["#d5e8da", "#f6d8dd"]}}
          }
        },
        {
          "data": {"name": "zones"},
          "mark": {"type": "text", "align": "left", "baseline": "alphabetic", "dx": 12, "dy": -2, "fontSize": 17, "font": "Liberation Sans Narrow, Roboto Condensed, Open Sans"},
          "encoding": {
            "x": {"value": 0},
            "y": {"field": "lo", "type": "quantitative"},
            "text": {"field": "z"},
            "color": {"field": "z", "type": "nominal", "legend": null, "scale": {"domain": ["Bullish", "Bearish"], "range": ["#3a8e3a", "#c9314b"]}}
          }
        },
        {
          "data": {"name": "rank", "format": {"parse": {"d": "utc:'%Y-%j'"}}},
          "encoding": {
            "x": {"field": "d", "type": "temporal", "scale": {"type": "utc", "domain": ["2021-02-28", "2024-02-20"]},
                  "axis": {"orient": "bottom", "tickCount": {"interval": "month", "step": 4}, "format": "%b '%y", "labelColor": "#666666",
                           "labelFontSize": 13.5, "tickColor": "#ccd6eb", "tickSize": 8, "domain": false, "grid": false, "labelPadding": 2, "title": null, "labelFlush": false}},
            "y": {"field": "r", "type": "quantitative"}
          },
          "layer": [
            {"mark": {"type": "line", "color": "#9e9e9e", "strokeWidth": 2.5}},
            {"transform": [{"filter": "datum.r >= 75"}], "mark": {"type": "line", "color": "#2e8b3a", "strokeWidth": 2.5}}
          ]
        }
      ]
    }
  ]
}
